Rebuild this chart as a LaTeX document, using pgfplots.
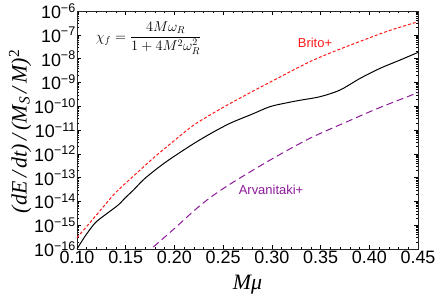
\documentclass[border=0pt]{standalone}
\usepackage{fontspec}
\setmainfont{Liberation Sans}
\newfontfamily\tim{Liberation Serif}
\usepackage{pgfplots}
\pgfplotsset{compat=1.18}
\definecolor{brito}{rgb}{1,0.1,0.1}
\definecolor{arv}{rgb}{0.55,0.1,0.6}
\begin{document}
\begin{tikzpicture}
\begin{axis}[
  scale only axis, width=341bp, height=238bp,
  xmin=0.1, xmax=0.45, ymode=log, ymin=1e-16, ymax=1e-6,
  xtick={0.10,0.15,0.20,0.25,0.30,0.35,0.40,0.45},
  xticklabels={0.10,0.15,0.20,0.25,0.30,0.35,0.40,0.45},
  minor x tick num=4,
  ytick={1e-16,1e-15,1e-14,1e-13,1e-12,1e-11,1e-10,1e-9,1e-8,1e-7,1e-6},
  yticklabels={10\textsuperscript{−16},10\textsuperscript{−15},10\textsuperscript{−14},10\textsuperscript{−13},10\textsuperscript{−12},10\textsuperscript{−11},10\textsuperscript{−10},10\textsuperscript{−9},10\textsuperscript{−8},10\textsuperscript{−7},10\textsuperscript{−6}},
  tick align=inside, major tick length=4bp, minor tick length=2bp,
  every tick/.style={black, line width=0.5bp},
  axis line style={line width=0.6bp, black!85},
  tick label style={font=\fontsize{18}{20}\selectfont},
  yticklabel style={inner xsep=1bp},
  xticklabel style={inner ysep=2bp},
  xlabel={\fontsize{22}{24}\selectfont\tim\itshape Mμ},
  ylabel={\fontsize{22}{24}\selectfont\tim\itshape (dE\,/\,dt)\,/\,(M\textsubscript{S}\,/\,M)\textsuperscript{\upshape 2}},
  every axis x label/.style={at={(axis description cs:0.5,-0.151)}, anchor=center},
  every axis y label/.style={at={(axis description cs:-0.167,0.494)}, anchor=center, rotate=90},
]
\addplot[brito, line width=1bp, dash pattern=on 3bp off 2bp, smooth] coordinates {
(0.10,2.95e-16) (0.12,2.69e-15) (0.139,2.19e-14) (0.16,1.38e-13) (0.18,7.59e-13)
(0.20,3.63e-12) (0.221,1.74e-11) (0.25,8.91e-11) (0.28,4.17e-10) (0.30,1.12e-9)
(0.339,7.41e-9) (0.37,2.51e-8) (0.40,7.41e-8) (0.42,1.48e-7) (0.45,3.55e-7)};
\addplot[black, line width=1bp, smooth] coordinates {
(0.100,1e-16) (0.108,3.31e-16) (0.1185,1.23e-15) (0.1287,2.69e-15) (0.1424,7.08e-15)
(0.149,1.35e-14) (0.158,3.02e-14) (0.1698,9.33e-14) (0.19,4.17e-13) (0.216,2.14e-12)
(0.235,6.31e-12) (0.257,1.91e-11) (0.28,4.68e-11) (0.298,9.55e-11) (0.315,1.38e-10)
(0.329,1.78e-10) (0.3495,2.51e-10) (0.370,4.79e-10) (0.3906,1.48e-9) (0.411,3.89e-9)
(0.4316,8.71e-9) (0.45,1.82e-8)};
\addplot[arv, line width=1bp, dash pattern=on 7bp off 4bp, smooth] coordinates {
(0.17,5.89e-17) (0.176,1e-16) (0.20,7.24e-16) (0.221,4.37e-15) (0.238,1.58e-14)
(0.26,6.31e-14) (0.30,6.03e-13) (0.339,4.47e-12) (0.38,2.51e-11) (0.41,8.51e-11)
(0.45,3.72e-10)};
\node[anchor=west, font=\fontsize{14}{16}\selectfont] at (rel axis cs:0.045,0.887)
  {$\displaystyle \chi_f = \frac{4M\omega_R}{1+4M^2\omega_R^2}$};
\node[text=brito, font=\fontsize{13}{15}\selectfont] at (rel axis cs:0.698,0.866) {Brito+};
\node[text=arv, font=\fontsize{13}{15}\selectfont] at (rel axis cs:0.569,0.248) {Arvanitaki+};
\end{axis}
\pgfresetboundingbox
\useasboundingbox (-77bp,-53bp) rectangle (359bp,249bp);
\end{tikzpicture}
\end{document}
